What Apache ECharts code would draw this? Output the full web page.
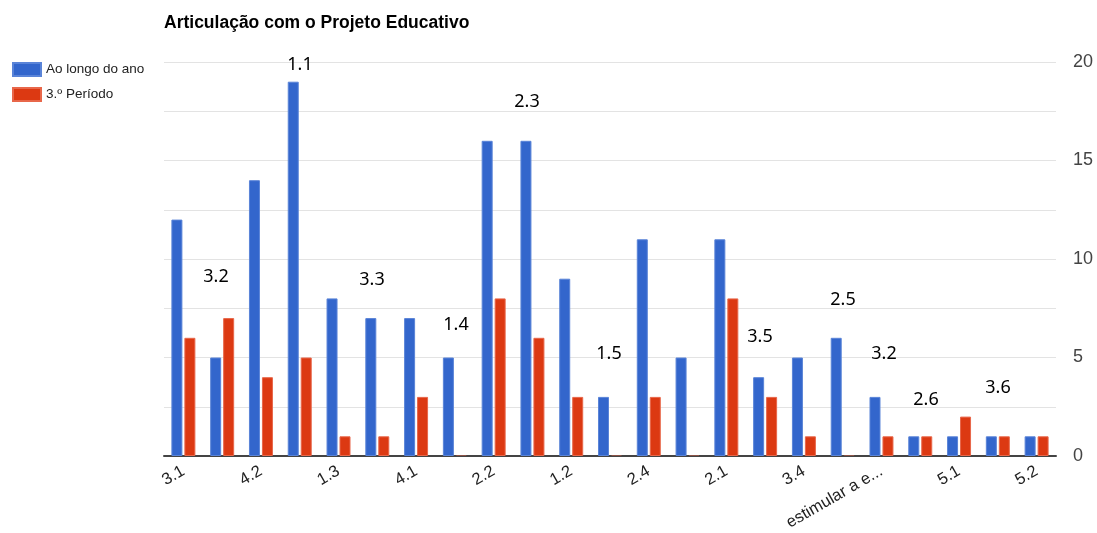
<!DOCTYPE html>
<html><head><meta charset="utf-8">
<script src="https://cdn.jsdelivr.net/npm/echarts@6/dist/echarts.min.js"></script>
<style>html,body{margin:0;padding:0;background:#fff}#c{width:1097px;height:533px}</style>
</head><body><div id="c"></div>
<script>
// Categories (every other one is labelled on the axis; the rest carry hand-placed annotations)
const categories = ['3.1','3.2','4.2','1.1','1.3','3.3','4.1','1.4','2.2','2.3','1.2','1.5','2.4','2.0','2.1','3.5','3.4','2.5','estimular a e...','2.6','5.1','3.6','5.2'];
const seriesNames = ['Ao longo do ano', '3.º Período'];
const aoLongoDoAno = [12,5,14,19,8,7,7,5,16,16,9,3,11,5,11,4,5,6,3,1,1,1,1];
const terceiroPeriodo = [6,7,4,5,1,1,3,0,8,6,3,0,3,0,8,3,1,0,1,1,2,1,1];
const yTicks = [0, 5, 10, 15, 20];
const annotationTexts = ['3.2','1.1','3.3','1.4','2.3','1.5','3.5','2.5','3.2','2.6','3.6'];
// pixel layout of the overlaid annotation texts
const annotationPos = [[216,277],[300,65],[372,280],[456,325],[527,102],[609,354],[760,337],[843,300],[884,354],[926,400],[998,388]];

const chart = echarts.init(document.getElementById('c'), null, {renderer:'canvas'});
const redData = terceiroPeriodo.map(v => v === 0 ? {value: 0, itemStyle: {opacity: 0.25}} : v);
chart.setOption({
  animation: false,
  textStyle: {fontFamily: 'Liberation Sans, Arial, sans-serif'},
  title: {
    text: 'Articulação com o Projeto Educativo',
    left: 159, top: 9,
    textStyle: {fontSize: 17.5, fontWeight: 'bold', color: '#000', fontFamily: 'Liberation Sans, Arial, sans-serif'}
  },
  legend: {
    orient: 'vertical', left: 7, top: 57,
    itemWidth: 28, itemHeight: 13, itemGap: 10,
    icon: 'rect',
    textStyle: {fontSize: 13.5, color: '#222'},
    data: seriesNames
  },
  grid: {left: 164, right: 41, top: 62, bottom: 77, containLabel: false},
  xAxis: {
    type: 'category',
    data: categories,
    axisTick: {show: false},
    axisLine: {lineStyle: {color: '#444', width: 2}},
    axisLabel: {interval: 1, rotate: 30, fontSize: 16.5, color: '#222', margin: 14}
  },
  yAxis: {
    type: 'value', position: 'right',
    min: 0, max: 20, interval: 2.5,
    axisLine: {show: false}, axisTick: {show: false},
    splitLine: {lineStyle: {color: '#e3e3e3', width: 1}},
    axisLabel: {fontSize: 18, color: '#444', margin: 17,
      formatter: v => yTicks.indexOf(v) >= 0 ? String(v) : ''}
  },
  series: [
    {name: seriesNames[0], type: 'bar', data: aoLongoDoAno, barWidth: 11, barGap: '18%',
     itemStyle: {color: '#3366cc', borderColor: '#5a84d8', borderWidth: 1}},
    {name: seriesNames[1], type: 'bar', data: redData, barWidth: 11, barMinHeight: 1,
     itemStyle: {color: '#dc3912', borderColor: '#e8674a', borderWidth: 1}}
  ],
  graphic: annotationTexts.map((t, i) => ({
    type: 'text', x: annotationPos[i][0], y: annotationPos[i][1], z: 100,
    style: {text: t, fontSize: 18, fill: '#000', fontFamily: 'Noto Sans, sans-serif', align: 'center', verticalAlign: 'middle'}
  }))
});
</script></body></html>
